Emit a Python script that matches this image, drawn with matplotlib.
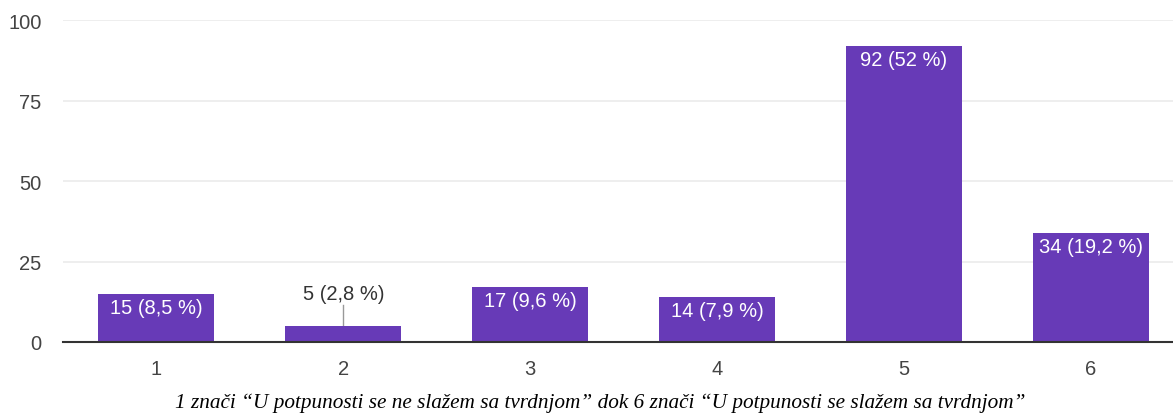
import matplotlib.pyplot as plt

categories = ["1", "2", "3", "4", "5", "6"]
counts = [15, 5, 17, 14, 92, 34]
labels = ["15 (8,5 %)", "5 (2,8 %)", "17 (9,6 %)", "14 (7,9 %)", "92 (52 %)", "34 (19,2 %)"]
yticks = [0, 25, 50, 75, 100]
caption = "1 znači \u201cU potpunosti se ne slažem sa tvrdnjom\u201d dok 6 znači \u201cU potpunosti se slažem sa tvrdnjom\u201d"

plt.rcParams["font.family"] = ["Liberation Sans", "DejaVu Sans"]

fig = plt.figure(figsize=(11.73, 4.14), dpi=100)
ax = fig.add_axes([0.0537, 0.1715, 0.9463, 0.7775])

x = list(range(1, len(categories) + 1))
ax.bar(x, counts, width=0.62, color="#673ab7", zorder=3)

for xi, c, lab in zip(x, counts, labels):
    if c >= 10:
        ax.annotate(lab, (xi, c), xytext=(0, -3), textcoords="offset points",
                    ha="center", va="top", color="white", fontsize=14.5, zorder=4)
    else:
        ax.plot([xi, xi], [c, c + 6.5], color="#999999", lw=1, zorder=2)
        ax.text(xi, c + 7, lab, ha="center", va="bottom", color="#333333",
                fontsize=14.5, zorder=4)

ax.set_xlim(0.5, 6.44)
ax.set_ylim(0, 100)
ax.set_yticks(yticks)
ax.set_xticks(x)
ax.set_xticklabels(categories)
ax.grid(axis="y", color="#ebebeb", lw=1.2, zorder=0)
for s in ["top", "right", "left"]:
    ax.spines[s].set_visible(False)
ax.spines["bottom"].set_color("#333333")
ax.spines["bottom"].set_linewidth(1.5)
ax.spines["bottom"].set_zorder(5)
ax.tick_params(length=0, labelsize=14.5, labelcolor="#444444")
ax.tick_params(axis="x", pad=12)
ax.tick_params(axis="y", pad=15.5)

fig.text(0.512, 0.025, caption, ha="center", va="center", fontsize=15.3,
         style="italic", family=["Liberation Serif", "DejaVu Serif"])

fig.savefig("out.png", dpi=100)
